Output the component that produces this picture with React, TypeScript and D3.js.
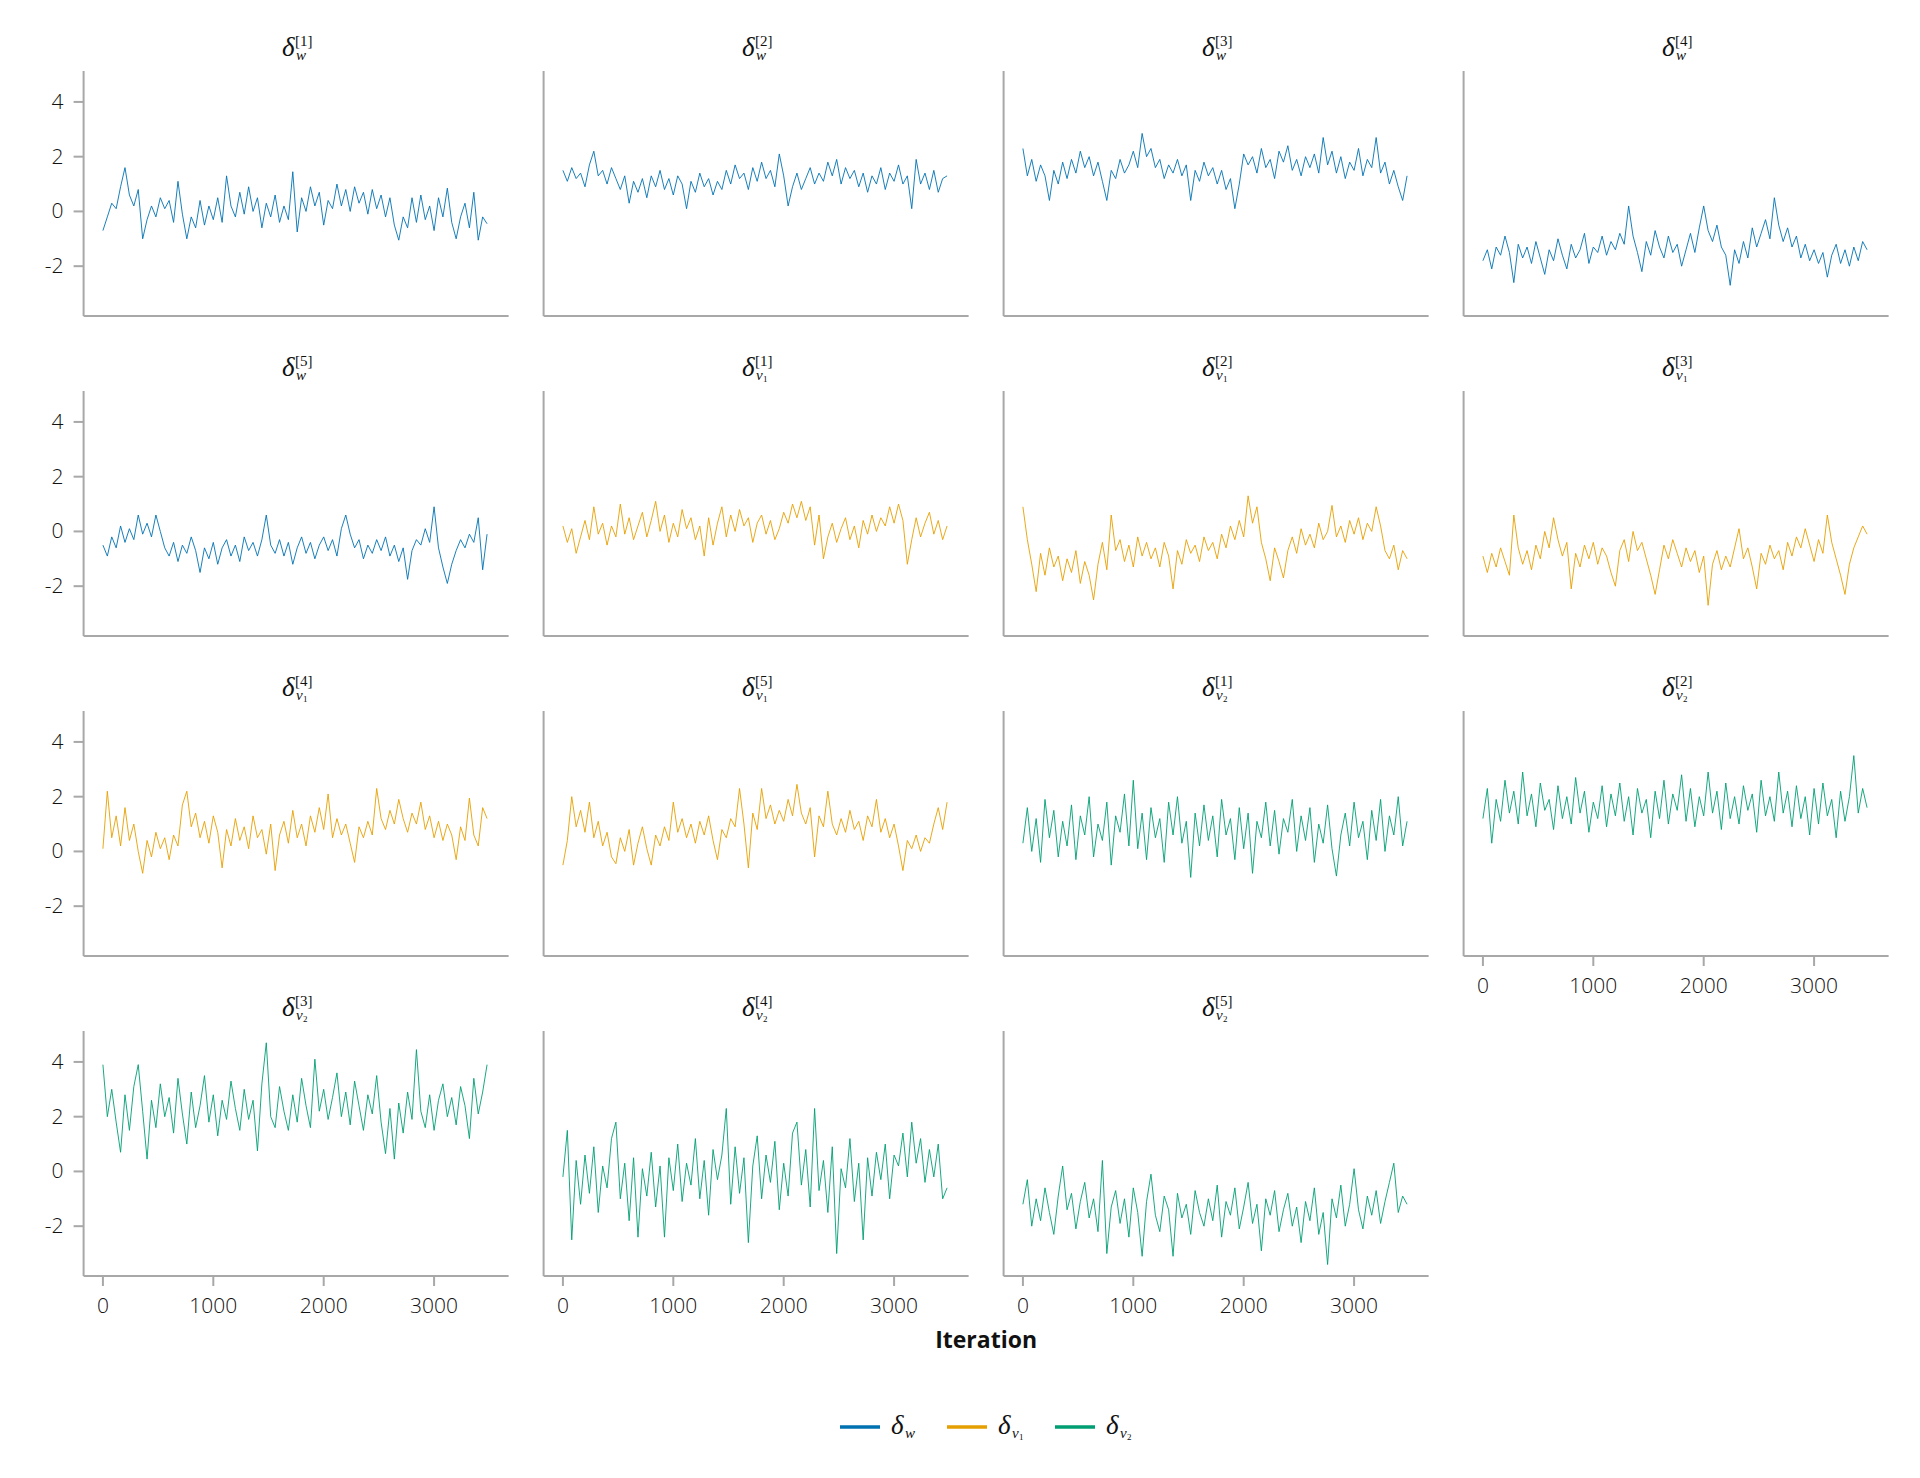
import React from "react";
import * as d3 from "d3";

// thinned MCMC traces, one value every 40 iterations
const iterStep = 40;
const xTicks = [0, 1000, 2000, 3000];
const yTicks = [-2, 0, 2, 4];
const xDomain = [-175, 3675];
const yDomain = [-3.82, 5.13];

const deltaW1 = [
  -0.7, -0.2, 0.3, 0.1, 0.9, 1.6, 0.6, 0.2, 0.8, -1.0,
  -0.3, 0.2, -0.2, 0.5, 0.1, 0.4, -0.4, 1.1, -0.1, -1.0,
  -0.2, -0.6, 0.4, -0.5, 0.2, -0.3, 0.5, -0.4, 1.3, 0.2,
  -0.2, 0.7, -0.1, 0.9, 0.0, 0.5, -0.6, 0.3, -0.2, 0.6,
  -0.4, 0.2, -0.3, 1.45, -0.75, 0.5, 0.0, 0.9, 0.2, 0.7,
  -0.5, 0.4, 0.1, 1.0, 0.2, 0.8, 0.0, 0.9, 0.3, 0.7,
  -0.1, 0.8, 0.1, 0.6, -0.2, 0.5, -0.5, -1.05, -0.2, -0.6,
  0.5, -0.4, 0.6, -0.3, 0.2, -0.7, 0.5, -0.2, 0.85, -0.4,
  -1.0, -0.2, 0.3, -0.6, 0.7, -1.05, -0.2, -0.45,
];
const deltaW2 = [
  1.5, 1.1, 1.6, 1.2, 1.4, 0.9, 1.7, 2.2, 1.3, 1.5,
  1.0, 1.6, 1.2, 0.8, 1.3, 0.3, 1.1, 0.7, 1.2, 0.5,
  1.3, 0.9, 1.5, 0.8, 1.2, 0.6, 1.3, 1.0, 0.1, 1.1,
  0.7, 1.4, 0.9, 1.2, 0.6, 1.1, 0.8, 1.5, 1.0, 1.7,
  1.2, 1.4, 0.8, 1.6, 1.1, 1.8, 1.2, 1.5, 0.9, 2.1,
  1.3, 0.2, 0.9, 1.4, 0.8, 1.2, 1.6, 1.0, 1.4, 1.1,
  1.8, 1.3, 1.9, 1.0, 1.6, 1.2, 1.5, 0.9, 1.4, 0.7,
  1.3, 1.0, 1.6, 0.8, 1.4, 1.1, 1.7, 1.0, 1.3, 0.1,
  1.9, 1.0, 1.4, 0.8, 1.5, 0.7, 1.2, 1.3,
];
const deltaW3 = [
  2.3, 1.3, 1.9, 1.1, 1.7, 1.3, 0.4, 1.5, 1.0, 1.8,
  1.2, 1.9, 1.4, 2.2, 1.6, 2.0, 1.3, 1.8, 1.1, 0.4,
  1.5, 1.2, 1.9, 1.4, 1.7, 2.2, 1.6, 2.85, 2.0, 2.3,
  1.6, 1.9, 1.2, 1.7, 1.4, 1.9, 1.3, 1.7, 0.4, 1.5,
  1.1, 1.8, 1.3, 1.6, 1.0, 1.5, 0.8, 1.2, 0.1, 1.0,
  2.1, 1.7, 2.0, 1.4, 2.3, 1.6, 1.9, 1.2, 2.2, 1.8,
  2.4, 1.5, 1.9, 1.3, 2.0, 1.6, 2.1, 1.4, 2.7, 1.7,
  2.2, 1.4, 2.0, 1.2, 1.8, 1.5, 2.3, 1.3, 1.9, 1.6,
  2.7, 1.4, 1.8, 1.0, 1.5, 0.9, 0.4, 1.3,
];
const deltaW4 = [
  -1.8, -1.4, -2.1, -1.3, -1.6, -0.9, -1.5, -2.6, -1.2, -1.7,
  -1.3, -1.9, -1.1, -1.7, -2.3, -1.4, -1.8, -1.0, -1.6, -2.1,
  -1.2, -1.7, -1.4, -0.8, -1.9, -1.3, -1.5, -0.9, -1.6, -1.1,
  -1.4, -0.8, -1.2, 0.2, -0.9, -1.5, -2.2, -1.1, -1.6, -0.7,
  -1.3, -1.7, -0.9, -1.5, -1.2, -2.0, -1.4, -0.8, -1.5, -0.6,
  0.2, -0.7, -1.1, -0.5, -1.3, -1.6, -2.7, -1.4, -1.9, -1.1,
  -1.7, -0.6, -1.3, -0.8, -0.3, -1.0, 0.5, -0.5, -1.1, -0.6,
  -1.3, -0.9, -1.7, -1.2, -1.8, -1.4, -1.9, -1.5, -2.4, -1.6,
  -1.2, -1.9, -1.4, -2.0, -1.3, -1.8, -1.1, -1.4,
];
const deltaW5 = [
  -0.5, -0.9, -0.2, -0.6, 0.2, -0.4, 0.1, -0.3, 0.6, -0.1,
  0.3, -0.2, 0.6, 0.0, -0.6, -0.9, -0.4, -1.1, -0.5, -0.8,
  -0.2, -0.7, -1.5, -0.6, -1.0, -0.4, -1.2, -0.6, -0.3, -0.9,
  -0.5, -1.1, -0.2, -0.7, -0.4, -0.9, -0.3, 0.6, -0.5, -0.8,
  -0.3, -0.9, -0.4, -1.2, -0.6, -0.2, -0.8, -0.4, -1.0, -0.5,
  -0.2, -0.7, -0.3, -0.9, 0.1, 0.6, -0.1, -0.6, -0.3, -1.0,
  -0.5, -0.8, -0.3, -0.7, -0.2, -0.9, -0.5, -1.1, -0.6, -1.75,
  -0.7, -0.3, -0.5, 0.1, -0.4, 0.9, -0.6, -1.3, -1.9, -1.2,
  -0.7, -0.3, -0.6, -0.1, -0.4, 0.5, -1.4, -0.1,
];
const deltaV1_1 = [
  0.2, -0.4, 0.1, -0.8, -0.2, 0.4, -0.3, 0.9, -0.1, 0.3,
  -0.5, 0.2, -0.2, 1.0, -0.1, 0.5, -0.3, 0.2, 0.7, -0.2,
  0.4, 1.1, 0.0, 0.6, -0.4, 0.3, -0.2, 0.8, 0.1, 0.5,
  -0.3, 0.2, -0.9, 0.5, -0.5, 0.3, 0.9, -0.2, 0.6, 0.0,
  0.8, 0.2, 0.5, -0.4, 0.3, 0.6, -0.1, 0.4, -0.3, 0.1,
  0.7, 0.3, 1.0, 0.5, 1.1, 0.4, 0.9, -0.5, 0.6, -1.0,
  -0.2, 0.3, -0.4, 0.1, 0.5, -0.3, 0.2, -0.6, 0.4, -0.1,
  0.6, 0.0, 0.5, 0.2, 0.9, 0.3, 1.0, 0.4, -1.2, -0.3,
  0.5, -0.2, 0.3, 0.7, -0.1, 0.4, -0.3, 0.2,
];
const deltaV1_2 = [
  0.9, -0.3, -1.2, -2.2, -0.8, -1.6, -0.6, -1.3, -0.9, -1.8,
  -1.0, -1.5, -0.7, -1.9, -1.1, -1.6, -2.5, -1.2, -0.4, -1.4,
  0.6, -0.7, -0.3, -1.1, -0.5, -1.3, -0.2, -0.9, -0.4, -1.0,
  -0.6, -1.3, -0.4, -0.9, -2.1, -0.7, -1.2, -0.3, -0.8, -0.5,
  -1.1, -0.2, -0.7, -0.4, -1.0, -0.1, -0.6, 0.2, -0.3, 0.4,
  -0.2, 1.3, 0.3, 0.9, -0.4, -1.0, -1.8, -0.6, -1.1, -1.7,
  -0.7, -0.2, -0.8, 0.1, -0.5, -0.1, -0.6, 0.3, -0.3, 0.0,
  0.95, -0.2, 0.2, -0.4, 0.4, -0.1, 0.5, -0.3, 0.3, 0.0,
  0.9, 0.2, -0.7, -1.0, -0.5, -1.4, -0.7, -1.0,
];
const deltaV1_3 = [
  -0.9, -1.5, -0.8, -1.3, -0.6, -1.1, -1.6, 0.6, -0.6, -1.2,
  -0.7, -1.4, -0.5, -1.0, 0.0, -0.6, 0.5, -0.3, -0.9, -0.4,
  -2.1, -0.8, -1.3, -0.5, -1.0, -0.4, -1.2, -0.6, -0.9, -1.5,
  -2.0, -0.7, -0.3, -1.1, 0.0, -0.7, -0.4, -1.0, -1.6, -2.3,
  -1.4, -0.5, -1.0, -0.3, -0.8, -1.3, -0.6, -1.1, -0.7, -1.5,
  -0.9, -2.7, -1.2, -0.7, -1.4, -0.9, -1.3, -0.6, 0.1, -1.0,
  -0.6, -1.3, -2.1, -0.8, -1.2, -0.5, -1.0, -0.7, -1.4, -0.4,
  -0.9, -0.2, -0.6, 0.1, -0.5, -1.1, -0.3, -0.8, 0.6, -0.4,
  -1.0, -1.6, -2.3, -1.2, -0.6, -0.2, 0.2, -0.1,
];
const deltaV1_4 = [
  0.1, 2.2, 0.5, 1.3, 0.2, 1.6, 0.4, 1.0, 0.0, -0.8,
  0.4, -0.2, 0.7, 0.1, 0.5, -0.3, 0.6, 0.2, 1.7, 2.2,
  0.9, 1.4, 0.5, 1.1, 0.3, 1.3, 0.7, -0.6, 0.8, 0.2,
  1.2, 0.4, 0.9, 0.1, 1.3, 0.5, 0.8, -0.1, 1.0, -0.7,
  0.6, 1.1, 0.3, 1.5, 0.5, 1.0, 0.2, 1.3, 0.7, 1.6,
  0.8, 2.1, 0.5, 1.2, 0.6, 1.0, 0.3, -0.4, 0.9, 0.5,
  1.1, 0.6, 2.3, 1.2, 0.8, 1.5, 1.0, 1.9, 1.2, 0.7,
  1.4, 1.0, 1.8, 0.8, 1.3, 0.5, 1.1, 0.4, 1.0, 0.6,
  -0.3, 0.9, 0.4, 1.95, 0.6, 0.2, 1.6, 1.2,
];
const deltaV1_5 = [
  -0.5, 0.4, 2.0, 0.9, 1.5, 0.7, 1.8, 0.5, 1.1, 0.2,
  0.7, -0.2, -0.45, 0.5, 0.0, 0.8, -0.5, 0.3, 0.9, 0.1,
  -0.5, 0.6, 0.2, 0.9, 0.4, 1.8, 0.7, 1.2, 0.5, 1.0,
  0.3, 1.1, 0.6, 1.3, 0.4, -0.3, 0.8, 0.5, 1.2, 0.9,
  2.3, 1.0, -0.6, 1.4, 0.8, 2.3, 1.2, 1.7, 1.0, 1.5,
  1.1, 1.9, 1.3, 2.45, 1.4, 1.0, 1.6, -0.2, 1.3, 0.9,
  2.2, 1.0, 0.6, 1.2, 0.7, 1.5, 0.8, 1.1, 0.4, 1.3,
  0.9, 1.9, 0.7, 1.2, 0.5, 1.0, 0.2, -0.7, 0.4, 0.1,
  0.6, 0.0, 0.5, 0.3, 1.0, 1.6, 0.8, 1.8,
];
const deltaV2_1 = [
  0.3, 1.6, 0.0, 1.2, -0.4, 1.9, 0.5, 1.5, -0.2, 1.1,
  0.2, 1.7, -0.3, 1.3, 0.6, 2.0, -0.2, 1.0, 0.4, 1.8,
  -0.5, 1.3, 0.7, 2.1, 0.2, 2.6, 0.1, 1.4, -0.3, 1.6,
  0.5, 1.2, -0.4, 1.8, 0.6, 2.0, 0.3, 1.1, -0.95, 1.4,
  0.2, 1.7, 0.4, 1.3, -0.2, 1.9, 0.6, 1.2, -0.3, 1.6,
  0.1, 1.4, -0.8, 1.1, 0.5, 1.8, 0.2, 1.5, -0.1, 1.2,
  0.7, 1.9, 0.0, 1.3, 0.4, 1.6, -0.4, 1.0, 0.3, 1.7,
  0.1, -0.9, 0.6, 1.4, 0.2, 1.8, 0.5, 1.1, -0.3, 1.5,
  0.4, 1.9, 0.0, 1.3, 0.6, 2.0, 0.2, 1.1,
];
const deltaV2_2 = [
  1.2, 2.3, 0.3, 1.9, 1.1, 2.6, 1.4, 2.2, 1.0, 2.9,
  1.3, 2.1, 0.9, 2.5, 1.5, 1.9, 0.8, 2.4, 1.2, 2.0,
  1.0, 2.7, 1.4, 2.2, 0.7, 1.8, 1.2, 2.4, 0.9, 2.1,
  1.3, 2.5, 1.1, 2.0, 0.6, 2.3, 1.4, 1.9, 0.5, 2.2,
  1.2, 2.6, 1.0, 2.1, 1.5, 2.8, 1.1, 2.3, 0.9, 2.0,
  1.3, 2.9, 1.4, 2.2, 0.8, 2.5, 1.2, 2.0, 1.0, 2.4,
  1.5, 2.1, 0.7, 2.6, 1.3, 2.0, 1.1, 2.9, 1.4, 2.2,
  0.9, 2.4, 1.2, 2.0, 0.6, 2.3, 1.0, 2.5, 1.3, 1.9,
  0.5, 2.2, 1.1, 2.0, 3.5, 1.4, 2.3, 1.6,
];
const deltaV2_3 = [
  3.9, 2.0, 3.0, 1.8, 0.7, 2.8, 1.5, 3.1, 3.9, 2.2,
  0.45, 2.6, 1.6, 3.2, 2.0, 2.7, 1.4, 3.4, 2.1, 1.0,
  2.9, 1.6, 2.4, 3.5, 1.8, 2.8, 1.3, 2.6, 1.9, 3.3,
  2.3, 1.5, 3.0, 1.9, 2.6, 0.75, 3.2, 4.7, 2.0, 1.6,
  3.1, 2.2, 1.5, 2.8, 1.8, 3.4, 2.4, 1.6, 4.1, 2.2,
  3.0, 1.9, 2.7, 3.6, 2.0, 2.9, 1.7, 3.3, 2.4, 1.5,
  2.8, 2.1, 3.5, 1.8, 0.65, 2.3, 0.45, 2.5, 1.4, 2.9,
  1.9, 4.45, 2.2, 1.6, 2.8, 1.5, 2.6, 3.2, 2.0, 2.7,
  1.7, 3.1, 2.4, 1.2, 3.4, 2.1, 2.9, 3.9,
];
const deltaV2_4 = [
  -0.2, 1.5, -2.5, 0.4, -1.2, 0.6, -0.8, 0.9, -1.5, 0.2,
  -0.6, 1.2, 1.8, -1.0, 0.3, -1.8, 0.5, -2.4, 0.1, -0.9,
  0.7, -1.3, 0.2, -2.4, 0.5, -0.7, 1.0, -1.1, 0.3, -0.5,
  1.2, -1.0, 0.4, -1.6, 0.8, -0.3, 0.6, 2.3, -1.2, 0.9,
  -0.8, 0.5, -2.6, 0.2, 1.3, -1.0, 0.6, -0.4, 1.1, -1.4,
  0.3, -0.9, 1.4, 1.8, -0.5, 0.8, -1.3, 2.3, -0.7, 0.4,
  -1.5, 0.9, -3.0, 0.1, -0.6, 1.2, -1.1, 0.3, -2.5, 0.5,
  -0.9, 0.7, -0.3, 1.0, -1.0, 0.6, 0.2, 1.4, -0.2, 1.8,
  0.3, 1.2, -0.4, 0.8, -0.2, 1.0, -1.0, -0.6,
];
const deltaV2_5 = [
  -1.2, -0.3, -2.0, -1.0, -1.8, -0.6, -1.5, -2.3, -0.9, 0.2,
  -1.4, -0.8, -2.1, -1.1, -0.4, -1.7, -1.0, -2.2, 0.4, -3.0,
  -1.3, -0.7, -1.9, -1.0, -2.4, -0.6, -1.5, -3.1, -1.1, -0.1,
  -1.6, -2.2, -0.9, -1.4, -3.1, -0.8, -1.7, -1.2, -2.3, -0.7,
  -1.5, -2.0, -1.0, -1.8, -0.5, -2.4, -1.1, -1.6, -0.6, -2.1,
  -1.3, -0.4, -1.9, -1.2, -2.9, -1.0, -1.6, -0.7, -2.2, -1.4,
  -0.8, -2.0, -1.3, -2.6, -1.1, -1.8, -0.6, -2.3, -1.5, -3.4,
  -1.0, -1.7, -0.5, -2.0, -1.2, 0.1, -1.4, -2.1, -0.9, -1.6,
  -0.7, -1.9, -1.1, -0.4, 0.3, -1.5, -0.9, -1.2,
];

const panelSeries = [
  deltaW1, deltaW2, deltaW3, deltaW4,
  deltaW5, deltaV1_1, deltaV1_2, deltaV1_3,
  deltaV1_4, deltaV1_5, deltaV2_1, deltaV2_2,
  deltaV2_3, deltaV2_4, deltaV2_5,
];
const panelGroup = [
  "w", "w", "w", "w",
  "w", "v1", "v1", "v1",
  "v1", "v1", "v2", "v2",
  "v2", "v2", "v2",
];
const panelIndex = [1, 2, 3, 4, 5, 1, 2, 3, 4, 5, 1, 2, 3, 4, 5];
const legendGroups = ["w", "v1", "v2"];
const groupColor: Record<string, string> = {
  w: "#0072B2",
  v1: "#E69F00",
  v2: "#009E73",
};

const nCols = 4;
const nRows = 4;
const panelLeft = 83.6;
const panelTop = 71;
const panelW = 425;
const panelH = 245;
const colPitch = 460;
const rowPitch = 320;

const spine = "#a8a8a8";
const tickFont = "'Open Sans', 'Noto Sans', sans-serif";
const mathFont = "'Liberation Serif', 'DejaVu Serif', serif";

const x = d3.scaleLinear().domain(xDomain).range([0, panelW]);
const y = d3.scaleLinear().domain(yDomain).range([panelH, 0]);

// delta with optional [k] superscript and w / v1 / v2 subscript
function DeltaLabel({ x0, y0, group, idx }: { x0: number; y0: number; group: string; idx?: number }) {
  const dW = 13;
  return (
    <g fill="#111">
      <text x={x0} y={y0} fontFamily={mathFont} fontStyle="italic" fontSize={27}>
        δ
      </text>
      {idx !== undefined && (
        <text x={x0 + dW} y={y0 - 10} fontFamily={mathFont} fontSize={15}>
          [{idx}]
        </text>
      )}
      <text x={x0 + dW + 1} y={y0 + 4} fontFamily={mathFont} fontStyle="italic" fontSize={15}>
        {group === "w" ? "w" : "v"}
      </text>
      {group !== "w" && (
        <text x={x0 + dW + 8} y={y0 + 6} fontFamily={mathFont} fontSize={9}>
          {group === "v1" ? "1" : "2"}
        </text>
      )}
    </g>
  );
}

function Panel({ k }: { k: number }) {
  const row = Math.floor(k / nCols);
  const col = k % nCols;
  const left = panelLeft + col * colPitch;
  const top = panelTop + row * rowPitch;
  const values = panelSeries[k];
  const showY = col === 0;
  const showX = k + nCols >= panelSeries.length;
  const line = d3
    .line<number>()
    .x((_, i) => x(i * iterStep))
    .y((d) => y(d));

  return (
    <g transform={`translate(${left},${top})`}>
      <DeltaLabel x0={panelW / 2 - 14} y0={-15} group={panelGroup[k]} idx={panelIndex[k]} />
      <path d={line(values) || ""} fill="none" stroke={groupColor[panelGroup[k]]} strokeWidth={0.9} strokeLinejoin="round" />
      <line x1={0} x2={0} y1={0} y2={panelH} stroke={spine} strokeWidth={2} />
      <line x1={0} x2={panelW} y1={panelH} y2={panelH} stroke={spine} strokeWidth={2} />
      {showY &&
        yTicks.map((t) => (
          <g key={t}>
            <line x1={-10} x2={0} y1={y(t)} y2={y(t)} stroke={spine} strokeWidth={2} />
            <text x={-20} y={y(t) + 7} textAnchor="end" fontFamily={tickFont} fontWeight={300} fontSize={21} fill="#111">
              {t < 0 ? `-${Math.abs(t)}` : t}
            </text>
          </g>
        ))}
      {showX &&
        xTicks.map((t) => (
          <g key={t}>
            <line x1={x(t)} x2={x(t)} y1={panelH} y2={panelH + 10} stroke={spine} strokeWidth={2} />
            <text x={x(t)} y={panelH + 37} textAnchor="middle" fontFamily={tickFont} fontWeight={300} fontSize={21} fill="#111">
              {t}
            </text>
          </g>
        ))}
    </g>
  );
}

export default function App() {
  const W = 1920;
  const H = 1478;
  const gridRight = panelLeft + (nCols - 1) * colPitch + panelW;
  const centerX = (panelLeft + gridRight) / 2;
  const legendY = 1427;
  const legendX = [840, 947, 1055];

  return (
    <svg width={W} height={H} style={{ position: "absolute", left: 0, top: 0, background: "#fff" }}>
      {panelSeries.map((_, k) => (
        <Panel key={k} k={k} />
      ))}
      <text x={centerX} y={panelTop + (nRows - 1) * rowPitch + panelH + 72} textAnchor="middle" fontFamily={tickFont} fontWeight={700} fontSize={23} fill="#111">
        Iteration
      </text>
      {legendGroups.map((g, i) => (
        <g key={g}>
          <line x1={legendX[i]} x2={legendX[i] + 40} y1={legendY} y2={legendY} stroke={groupColor[g]} strokeWidth={3.3} />
          <DeltaLabel x0={legendX[i] + 51} y0={legendY + 7} group={g} />
        </g>
      ))}
    </svg>
  );
}
